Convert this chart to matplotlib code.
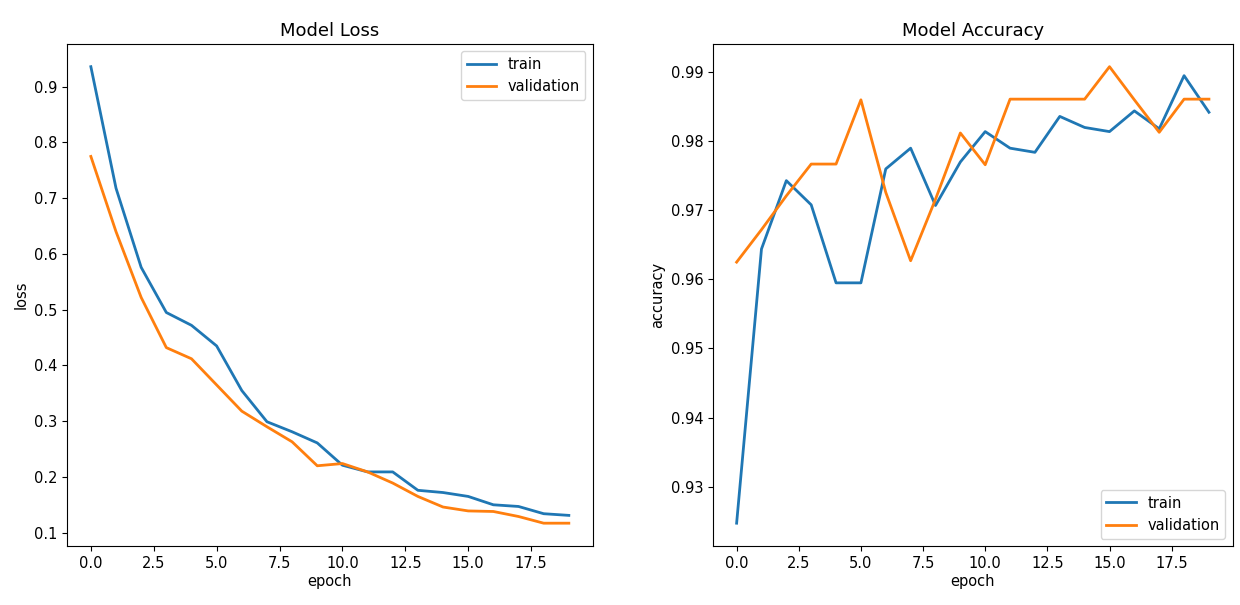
import matplotlib

matplotlib.use("Agg")
import matplotlib.pyplot as plt
from matplotlib.ticker import MultipleLocator

epochs = list(range(20))

loss_train = [0.936, 0.718, 0.576, 0.495, 0.472, 0.435, 0.355, 0.299, 0.281, 0.261,
              0.221, 0.209, 0.209, 0.176, 0.172, 0.165, 0.150, 0.147, 0.134, 0.131]
loss_val = [0.775, 0.640, 0.522, 0.432, 0.412, 0.365, 0.318, 0.290, 0.263, 0.220,
            0.224, 0.209, 0.189, 0.165, 0.146, 0.139, 0.138, 0.129, 0.117, 0.117]

acc_train = [0.9247, 0.9644, 0.9743, 0.9708, 0.9595, 0.9595, 0.9760, 0.9790, 0.9707, 0.9770,
             0.9814, 0.9790, 0.9784, 0.9836, 0.9820, 0.9814, 0.9844, 0.9818, 0.9895, 0.9842]
acc_val = [0.9625, 0.9672, 0.9721, 0.9767, 0.9767, 0.9860, 0.9726, 0.9627, 0.9716, 0.9812,
           0.9766, 0.9861, 0.9861, 0.9861, 0.9861, 0.9908, 0.9860, 0.9813, 0.9861, 0.9861]

plt.rcParams["font.size"] = 10.5

fig = plt.figure(figsize=(12.4, 6.05), dpi=100)
ax1 = fig.add_axes([0.054, 0.0975, 0.424, 0.83])
ax2 = fig.add_axes([0.575, 0.0975, 0.419, 0.83])

ax1.plot(epochs, loss_train, lw=2, label="train")
ax1.plot(epochs, loss_val, lw=2, label="validation")
ax1.yaxis.set_major_locator(MultipleLocator(0.1))
ax1.set_title("Model Loss", fontsize=13)
ax1.set_ylabel("loss")
ax1.set_xlabel("epoch", labelpad=2)
ax1.legend(loc="upper right")

ax2.plot(epochs, acc_train, lw=2, label="train")
ax2.plot(epochs, acc_val, lw=2, label="validation")
ax2.set_title("Model Accuracy", fontsize=13)
ax2.set_ylabel("accuracy")
ax2.set_xlabel("epoch", labelpad=2)
ax2.legend(loc="lower right")

fig.savefig("out.png", dpi=100)
